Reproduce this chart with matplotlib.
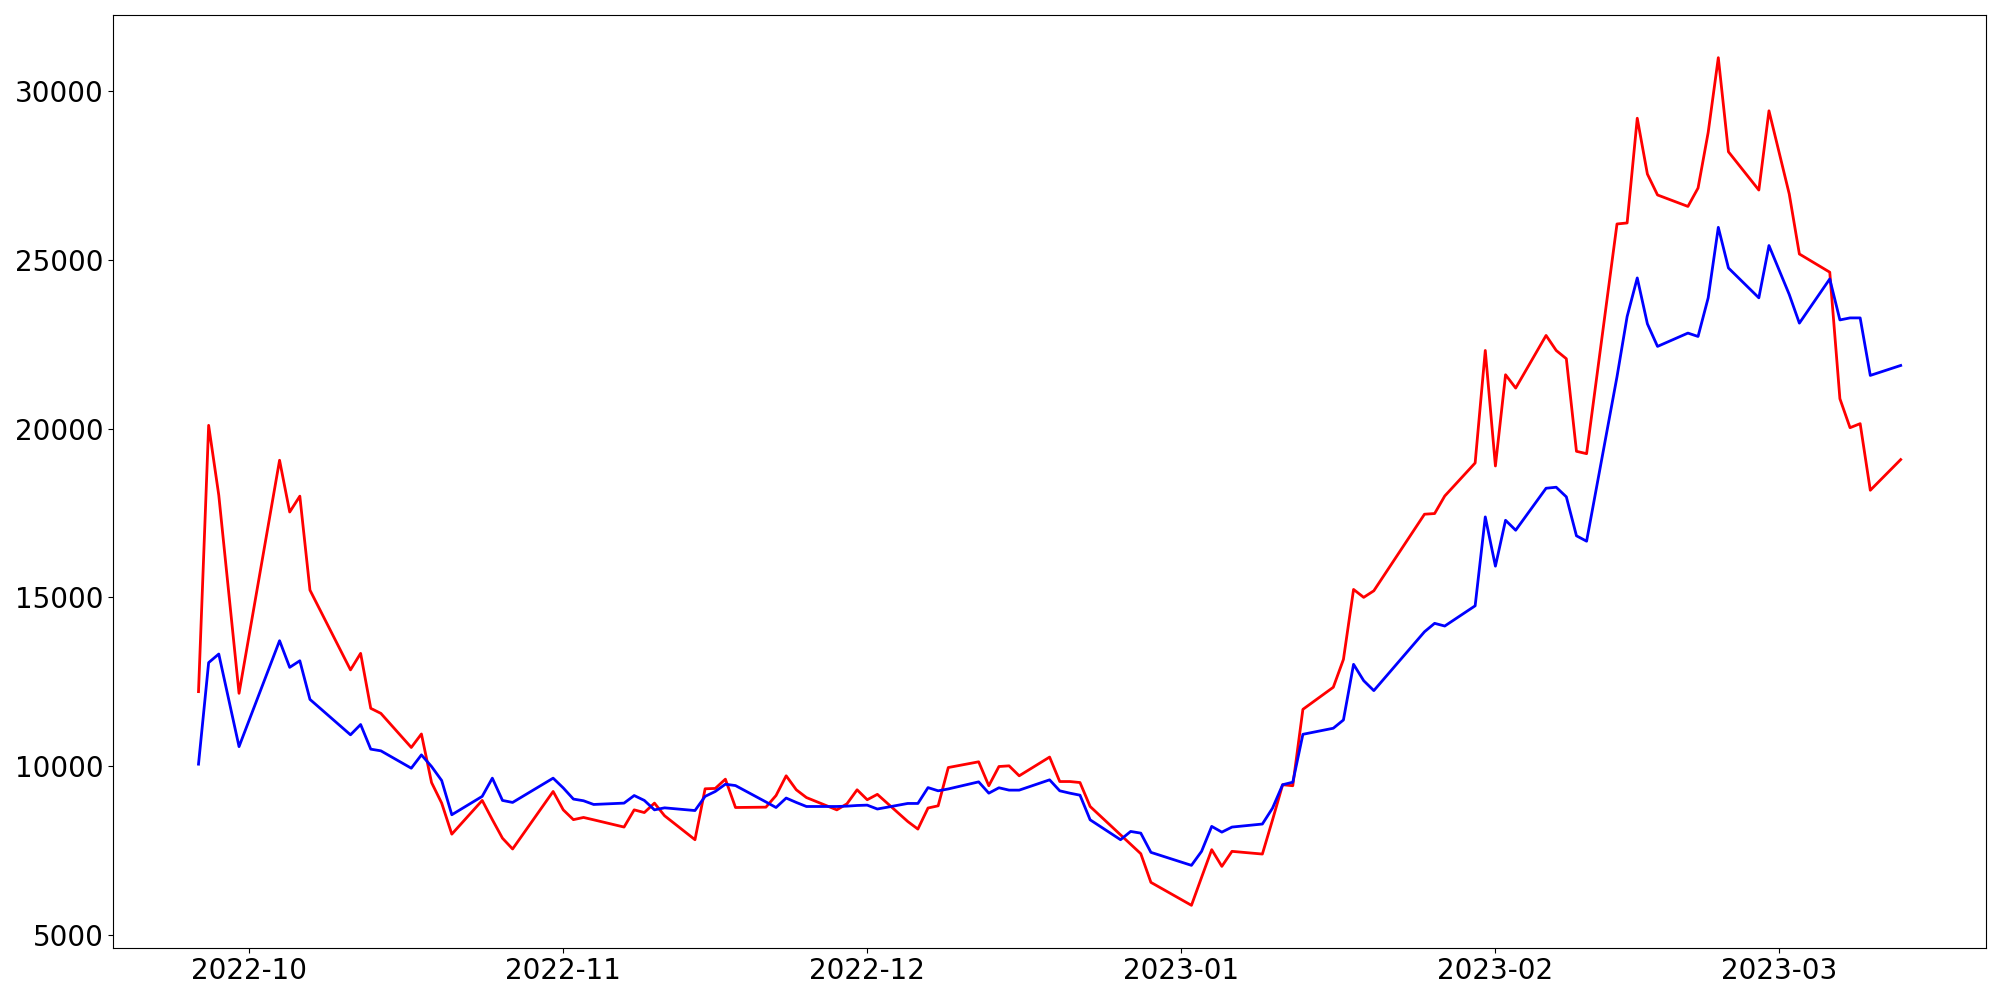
import pandas as pd
import matplotlib
matplotlib.use('Agg')
from matplotlib import pyplot as plt
import matplotlib.dates as mdates

# trading days
dates = [
    '2022-09-26', '2022-09-27', '2022-09-28', '2022-09-30',
    '2022-10-04', '2022-10-05', '2022-10-06', '2022-10-07',
    '2022-10-11', '2022-10-12', '2022-10-13', '2022-10-14',
    '2022-10-17', '2022-10-18', '2022-10-19', '2022-10-20', '2022-10-21',
    '2022-10-24', '2022-10-25', '2022-10-26', '2022-10-27',
    '2022-10-31', '2022-11-01', '2022-11-02', '2022-11-03', '2022-11-04',
    '2022-11-07', '2022-11-08', '2022-11-09', '2022-11-10', '2022-11-11',
    '2022-11-14', '2022-11-15', '2022-11-16', '2022-11-17', '2022-11-18',
    '2022-11-21', '2022-11-22', '2022-11-23', '2022-11-24', '2022-11-25',
    '2022-11-28', '2022-11-29', '2022-11-30', '2022-12-01', '2022-12-02',
    '2022-12-05', '2022-12-06', '2022-12-07', '2022-12-08', '2022-12-09',
    '2022-12-12', '2022-12-13', '2022-12-14', '2022-12-15', '2022-12-16',
    '2022-12-19', '2022-12-20', '2022-12-21', '2022-12-22', '2022-12-23',
    '2022-12-26', '2022-12-27', '2022-12-28', '2022-12-29',
    '2023-01-02', '2023-01-03', '2023-01-04', '2023-01-05', '2023-01-06',
    '2023-01-09', '2023-01-10', '2023-01-11', '2023-01-12', '2023-01-13',
    '2023-01-16', '2023-01-17', '2023-01-18', '2023-01-19', '2023-01-20',
    '2023-01-25', '2023-01-26', '2023-01-27',
    '2023-01-30', '2023-01-31', '2023-02-01', '2023-02-02', '2023-02-03',
    '2023-02-06', '2023-02-07', '2023-02-08', '2023-02-09', '2023-02-10',
    '2023-02-13', '2023-02-14', '2023-02-15', '2023-02-16', '2023-02-17',
    '2023-02-20', '2023-02-21', '2023-02-22', '2023-02-23', '2023-02-24',
    '2023-02-27', '2023-02-28', '2023-03-02', '2023-03-03',
    '2023-03-06', '2023-03-07', '2023-03-08', '2023-03-09', '2023-03-10',
    '2023-03-13',
]

red_values = [
    12205, 20100, 18030, 12155,
    19065, 17530, 18000, 15215,
    12850, 13340, 11710, 11560,
    10550, 10950, 9510, 8900, 7980,
    8980, 8410, 7860, 7540,
    9245, 8700, 8410, 8475, 8405,
    8190, 8700, 8620, 8900, 8525,
    7815, 9325, 9335, 9610, 8770,
    8780, 9125, 9710, 9295, 9065,
    8700, 8880, 9295, 9000, 9160,
    8355, 8130, 8755, 8820, 9955,
    10125, 9415, 9985, 10005, 9710,
    10265, 9540, 9540, 9510, 8800,
    7960, 7680, 7400, 6550,
    5870, 6700, 7520, 7025, 7470,
    7390, 8400, 9445, 9415, 11680,
    12335, 13160, 15235, 15000, 15195,
    17465, 17485, 18005,
    18985, 22320, 18895, 21600, 21205,
    22765, 22320, 22075, 19330, 19260,
    26070, 26100, 29205, 27550, 26930,
    26590, 27135, 28785, 31000, 28210,
    27075, 29425, 26960, 25180,
    24640, 20890, 20030, 20150, 18175,
    19085,
]

blue_values = [
    10055, 13065, 13320, 10575,
    13715, 12925, 13120, 11975,
    10925, 11230, 10500, 10450,
    9935, 10330, 9985, 9570, 8555,
    9100, 9640, 8980, 8920,
    9640, 9350, 9020, 8970, 8860,
    8900, 9125, 8980, 8700, 8760,
    8680, 9100, 9245, 9460, 9420,
    8935, 8770, 9050, 8920, 8800,
    8800, 8810, 8830, 8840, 8725,
    8890, 8890, 9360, 9265, 9320,
    9530, 9195, 9355, 9285, 9285,
    9590, 9265, 9195, 9135, 8405,
    7815, 8060, 8010, 7440,
    7055, 7470, 8210, 8040, 8190,
    8280, 8750, 9445, 9520, 10940,
    11120, 11365, 13015, 12530, 12235,
    13980, 14230, 14150,
    14750, 17385, 15925, 17285, 16990,
    18235, 18265, 17980, 16825, 16665,
    21540, 23325, 24470, 23110, 22440,
    22835, 22735, 23880, 25970, 24765,
    23880, 25430, 23980, 23130,
    24440, 23225, 23285, 23285, 21580,
    21875,
]

x = pd.to_datetime(dates)

fig, ax = plt.subplots(figsize=(20, 10), dpi=100)
fig.subplots_adjust(left=0.0567, right=0.9929, top=0.9847, bottom=0.0523)

ax.plot(x, red_values, color='red', linewidth=2)
ax.plot(x, blue_values, color='blue', linewidth=2)

ax.xaxis.set_major_locator(mdates.MonthLocator())
ax.xaxis.set_major_formatter(mdates.DateFormatter('%Y-%m'))
ax.tick_params(axis='both', labelsize=20)

plt.savefig('out.png')
